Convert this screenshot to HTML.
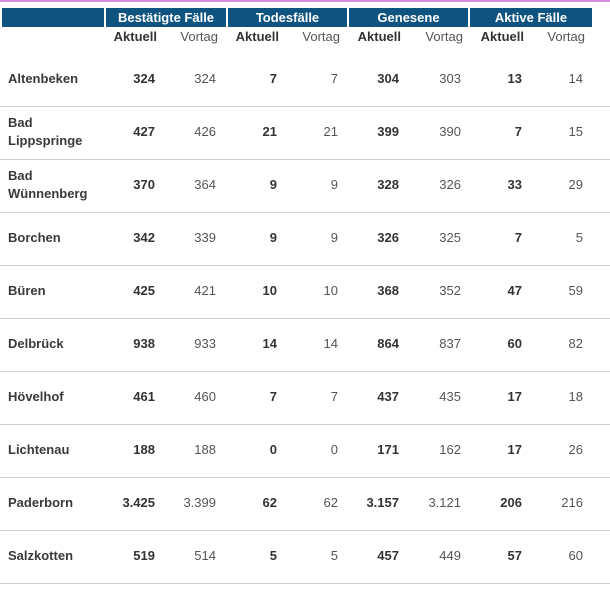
<!DOCTYPE html>
<html><head><meta charset="utf-8"><style>
body{margin:0;width:610px;height:597px;background:#fff;font-family:"Liberation Sans",sans-serif;position:relative;overflow:hidden}
.a{position:absolute;white-space:nowrap}
.h{background:#0f5380;color:#fff;font-weight:bold;font-size:13px;text-align:center;top:8px;height:19px;line-height:19px}
.sub{top:29px;font-size:13px;line-height:16px;text-align:right;width:60px}
.b{font-weight:bold;color:#333}
.v{color:#555}
.n{left:8px;font-size:13px;font-weight:bold;color:#3a3a3a;line-height:18px}
.c{font-size:13px;text-align:right;width:60px;line-height:16px}
.sep{left:0;width:610px;height:1px;background:#cfcfcf}
</style></head><body>
<div class="a" style="left:0;top:0;width:610px;height:2px;background:#d68fe0"></div>
<div class="a h" style="left:2px;width:102px"></div>
<div class="a h" style="left:106px;width:120px">Bestätigte Fälle</div>
<div class="a h" style="left:228px;width:119px">Todesfälle</div>
<div class="a h" style="left:349px;width:119px">Genesene</div>
<div class="a h" style="left:470px;width:122px">Aktive Fälle</div>
<div id="t"></div>
<script>
const names=[["Altenbeken"],["Bad","Lippspringe"],["Bad","Wünnenberg"],["Borchen"],["Büren"],["Delbrück"],["Hövelhof"],["Lichtenau"],["Paderborn"],["Salzkotten"]];
const vals=[
["324","324","7","7","304","303","13","14"],
["427","426","21","21","399","390","7","15"],
["370","364","9","9","328","326","33","29"],
["342","339","9","9","326","325","7","5"],
["425","421","10","10","368","352","47","59"],
["938","933","14","14","864","837","60","82"],
["461","460","7","7","437","435","17","18"],
["188","188","0","0","171","162","17","26"],
["3.425","3.399","62","62","3.157","3.121","206","216"],
["519","514","5","5","457","449","57","60"]];
const rights=[155,216,277,338,399,461,522,583];
const t=document.getElementById('t');
function mk(cls,l,tp,txt){const d=document.createElement('div');d.className='a '+cls;d.style.left=l+'px';d.style.top=tp+'px';d.innerHTML=txt;t.appendChild(d);return d;}
rights.forEach((r,i)=>{const d=mk('sub '+(i%2?'v':'b'),r-58,29,i%2?'Vortag':'Aktuell');

});
names.forEach((nm,k)=>{const top=53+k*53;const cy=top+26;
const n=mk('n',8,cy-nm.length*9,nm.join('<br>'));


vals[k].forEach((v,i)=>{const d=mk('c '+(i%2?'v':'b'),rights[i]-60,cy-8,v);

});
const s=mk('sep',0,top+53,'');

});
</script>
</body></html>
